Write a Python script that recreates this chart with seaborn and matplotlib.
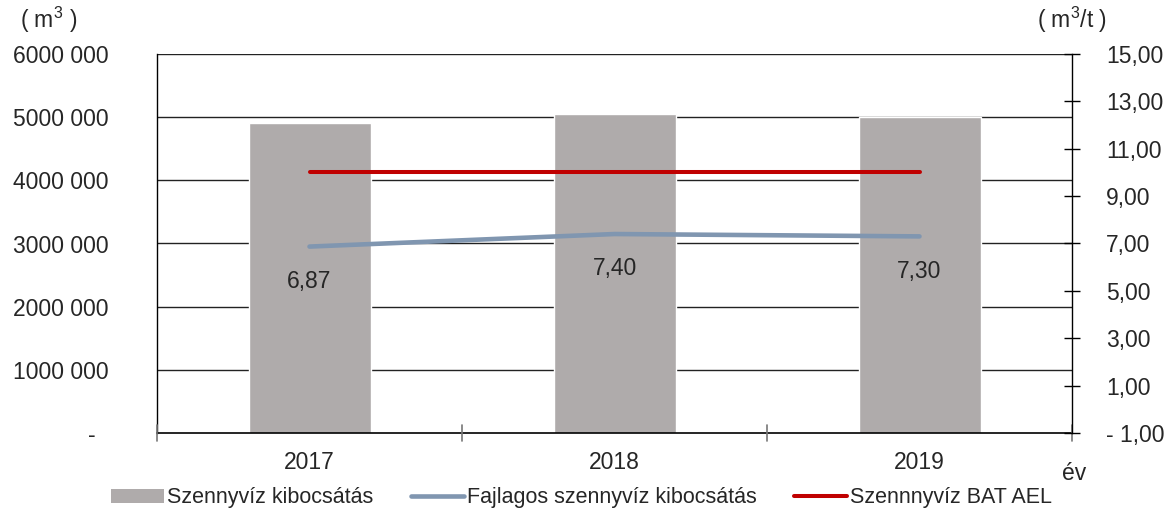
import matplotlib
matplotlib.use('Agg')
import matplotlib.pyplot as plt
import seaborn as sns
import pandas as pd
from matplotlib.lines import Line2D
from matplotlib.patches import Patch

# adatok
evek = ['2017', '2018', '2019']
kibocsatas = [4900000, 5050000, 5000000]      # m3
fajlagos = [6.87, 7.40, 7.30]                  # m3/t
bat_ael = [10.0, 10.0, 10.0]                   # m3/t
fajlagos_cimke = ['6,87', '7,40', '7,30']

bal_tick = [0, 1000000, 2000000, 3000000, 4000000, 5000000, 6000000]
bal_cimke = ['-  ', '1000 000', '2000 000', '3000 000', '4000 000', '5000 000', '6000 000']
jobb_tick = [-1, 1, 3, 5, 7, 9, 11, 13, 15]
jobb_cimke = ['- 1,00', '1,00', '3,00', '5,00', '7,00', '9,00', '11,00', '13,00', '15,00']

sns.set_style('white')
plt.rcParams['font.family'] = ['Liberation Sans', 'DejaVu Sans']
plt.rcParams['mathtext.fontset'] = 'custom'
plt.rcParams['mathtext.rm'] = 'Liberation Sans'
plt.rcParams['mathtext.it'] = 'Liberation Sans'

FS = 16.5   # tengely feliratok
FL = 15.5   # jelmagyarazat

df = pd.DataFrame({'ev': evek, 'kibocsatas': kibocsatas})

fig = plt.figure(figsize=(11.75, 5.11), dpi=100)
ax = fig.add_axes([157 / 1175, 1 - 433 / 511, 915 / 1175, 379 / 511])

for y in bal_tick[1:]:
    ax.axhline(y, color='#222222', lw=1.0, zorder=0)

sns.barplot(data=df, x='ev', y='kibocsatas', color='#afabab', width=0.4,
            saturation=1, ax=ax, zorder=2)
ax.set_ylim(0, 6000000)
ax.set_xlim(-0.5, 2.5)
ax.set_yticks(bal_tick)
ax.set_yticklabels(bal_cimke, fontsize=FS)
ax.tick_params(axis='y', length=0, pad=35)
ax.set_xticks([0, 1, 2])
ax.set_xticklabels(evek, fontsize=FS)
ax.tick_params(axis='x', length=0, pad=13)
ax.set_xlabel('')
ax.set_ylabel('')
for s in ['top', 'right']:
    ax.spines[s].set_visible(False)
ax.spines['left'].set_color('#000000')
ax.spines['bottom'].set_color('#000000')
ax.spines['left'].set_linewidth(1.0)
ax.spines['bottom'].set_linewidth(1.2)

# kategoria hatar tickek
for xb in [-0.5, 0.5, 1.5, 2.5]:
    ax.plot([xb, xb], [-120000, 120000], color='#777777', lw=1.2,
            clip_on=False, zorder=3)

ax2 = ax.twinx()
ax2.set_ylim(-1, 15)
ax2.set_yticks(jobb_tick)
ax2.set_yticklabels(jobb_cimke, fontsize=FS)
ax2.tick_params(axis='y', direction='inout', length=11, width=1, pad=19, color='#000000')
for s in ['top', 'left', 'bottom']:
    ax2.spines[s].set_visible(False)
ax2.spines['right'].set_color('#000000')
ax2.spines['right'].set_linewidth(1.0)

sns.lineplot(x=[0, 1, 2], y=fajlagos, color='#8096b0', lw=3.3, ax=ax2, zorder=4)
sns.lineplot(x=[0, 1, 2], y=bat_ael, color='#c00000', lw=2.9, ax=ax2, zorder=4)
ax2.set_xlim(-0.5, 2.5)

for i, t in enumerate(fajlagos_cimke):
    ax2.annotate(t, (i, fajlagos[i]), xytext=(0, -25), textcoords='offset points',
                 ha='center', va='center', fontsize=FS)

fig.text(20 / 1175, 1 - 20 / 511, '( m$^3$ )', fontsize=FS, ha='left', va='center')
fig.text(1037 / 1175, 1 - 20 / 511, '( m$^3$/t )', fontsize=FS, ha='left', va='center')
fig.text(1062 / 1175, 1 - 474 / 511, 'év', fontsize=FS, ha='left', va='center')

kezelok = [Patch(facecolor='#afabab', edgecolor='none'),
           Line2D([0], [0], color='#8096b0', lw=3.3),
           Line2D([0], [0], color='#c00000', lw=2.9)]
fig.legend(kezelok, ['Szennyvíz kibocsátás', 'Fajlagos szennyvíz kibocsátás', 'Szennnyvíz BAT AEL'],
           loc='center', bbox_to_anchor=(0.495, 1 - 498 / 511), ncol=3, frameon=False,
           fontsize=FL, handlelength=2.45, handletextpad=0.15, columnspacing=1.75,
           handleheight=0.6)

fig.savefig('out.png', dpi=100)
